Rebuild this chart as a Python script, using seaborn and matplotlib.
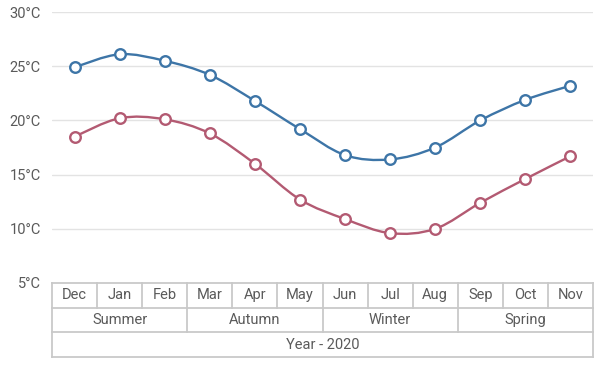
# %% data
import numpy as np
import seaborn as sns
import matplotlib.pyplot as plt
from matplotlib.path import Path
from matplotlib.patches import PathPatch

months = ["Dec", "Jan", "Feb", "Mar", "Apr", "May",
          "Jun", "Jul", "Aug", "Sep", "Oct", "Nov"]
seasons = ["Summer", "Autumn", "Winter", "Spring"]
year_label = "Year - 2020"
series_high = [24.9, 26.1, 25.5, 24.2, 21.8, 19.2, 16.8, 16.4, 17.5, 20.0, 21.9, 23.2]
series_low = [18.5, 20.2, 20.1, 18.8, 16.0, 12.7, 10.9, 9.6, 10.0, 12.4, 14.6, 16.7]
y_ticks = [5, 10, 15, 20, 25, 30]

# %% style
sns.set_theme(style="white")
plt.rcParams["font.family"] = ["Roboto", "DejaVu Sans"]

blue = "#3d75a7"
red = "#b35a72"
grid_c = "#e3e3e3"
border_c = "#c9c9c9"
text_c = "#5a5a5a"

W, H = 605, 377
fig = plt.figure(figsize=(W / 100, H / 100), dpi=100)
ax = fig.add_axes([52 / W, 1 - 283 / H, (593 - 52) / W, (283 - 12) / H])
tax = fig.add_axes([52 / W, 1 - 357 / H, (593 - 52) / W, (357 - 283) / H])


def smooth_path(xs, ys):
    # catmull-rom drawn as cubic bezier segments
    pts = np.column_stack([xs, ys]).astype(float)
    verts = [pts[0]]
    codes = [Path.MOVETO]
    n = len(pts)
    for i in range(n - 1):
        p0 = pts[max(i - 1, 0)]
        p1 = pts[i]
        p2 = pts[i + 1]
        p3 = pts[min(i + 2, n - 1)]
        verts += [p1 + (p2 - p0) / 6, p2 - (p3 - p1) / 6, p2]
        codes += [Path.CURVE4] * 3
    return Path(verts, codes)


x = np.arange(len(months))
for vals, c in [(series_high, blue), (series_low, red)]:
    ax.add_patch(PathPatch(smooth_path(x, vals), fill=False,
                           edgecolor=c, lw=1.7, zorder=3))
    sns.scatterplot(x=x, y=vals, ax=ax, s=58, marker="o",
                    facecolor="white", edgecolor=c, linewidth=1.7,
                    zorder=4, legend=False)

ax.set_xlim(-0.5, 11.5)
ax.set_ylim(5, 30)
ax.set_yticks(y_ticks)
ax.set_yticklabels([f"{t}°C" for t in y_ticks], color=text_c, fontsize=10.5)
ax.set_xticks([])
ax.tick_params(axis="y", length=0, pad=8)
for t in y_ticks[1:]:
    ax.axhline(t, color=grid_c, lw=1, zorder=1)
for s in ax.spines.values():
    s.set_visible(False)

# %% multi-level category table
tax.set_xlim(-0.5, 11.5)
tax.set_ylim(0, 3)
tax.axis("off")
lk = dict(color=border_c, lw=1.3, clip_on=False, solid_capstyle="projecting")
for yy in [0, 1, 2, 3]:
    tax.plot([-0.5, 11.5], [yy, yy], **lk)
tax.plot([-0.5, -0.5], [0, 3], **lk)
tax.plot([11.5, 11.5], [0, 3], **lk)
for i, m in enumerate(months):
    tax.text(i, 2.5, m, ha="center", va="center", color=text_c, fontsize=10.5)
    if i > 0:
        tax.plot([i - 0.5, i - 0.5], [2, 3], **lk)
for j, s in enumerate(seasons):
    tax.text(j * 3 + 1, 1.5, s, ha="center", va="center", color=text_c, fontsize=10.5)
    if j > 0:
        tax.plot([j * 3 - 0.5, j * 3 - 0.5], [1, 2], **lk)
tax.text(5.5, 0.5, year_label, ha="center", va="center", color=text_c, fontsize=10.5)

fig.savefig("out.png", dpi=100)
